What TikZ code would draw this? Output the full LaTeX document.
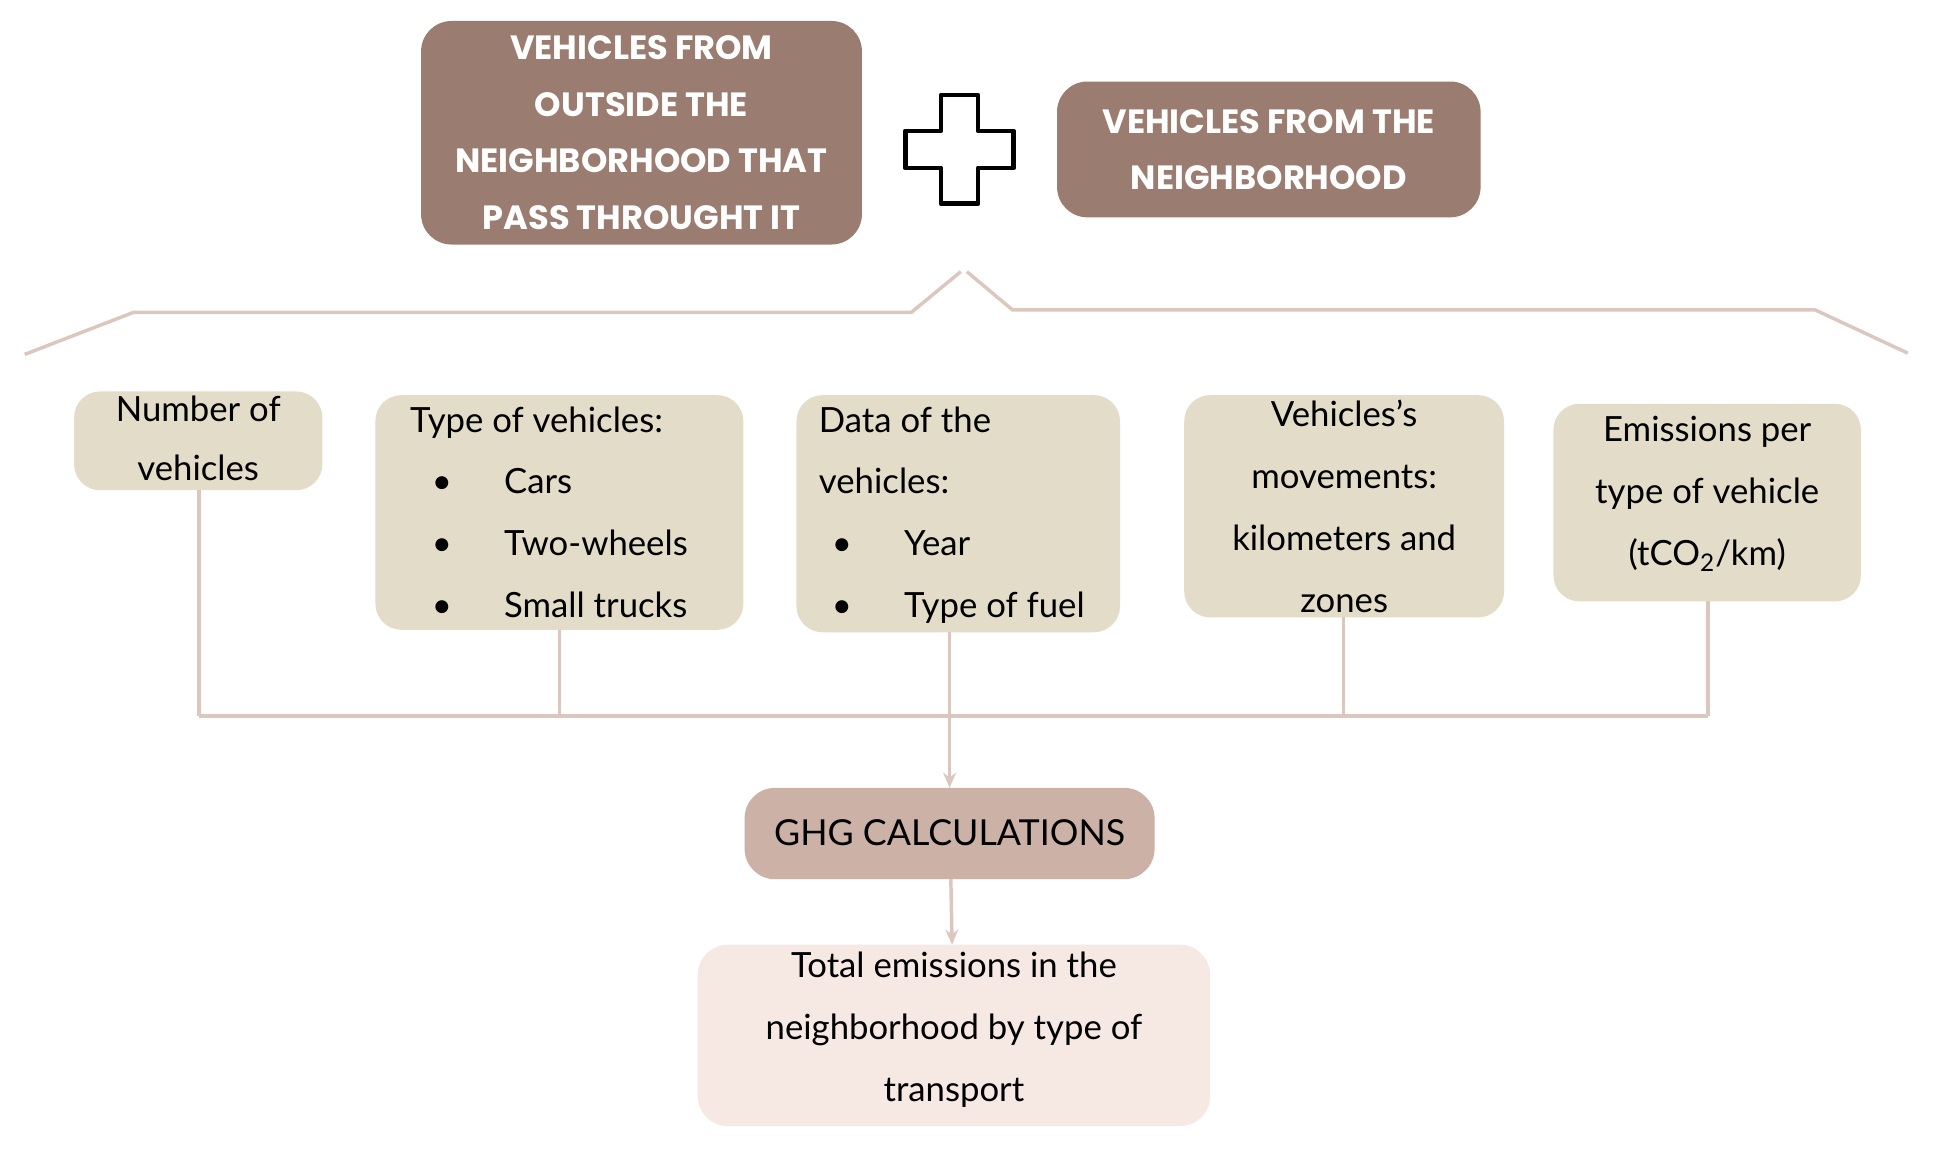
\documentclass[tikz,border=0pt]{standalone}
\usepackage{fontspec}
\setmainfont{Lato}
\newfontfamily\headf{Poppins}
\usetikzlibrary{arrows.meta}
\definecolor{dbrown}{HTML}{9A7D70}
\definecolor{beige}{HTML}{E2DCC8}
\definecolor{ghg}{HTML}{CBB1A6}
\definecolor{pinkbg}{HTML}{F6E8E3}
\definecolor{linec}{HTML}{DCC7BF}
\begin{document}
\begin{tikzpicture}[x=0.02cm,y=-0.02cm,
  dark/.style={fill=dbrown,rounded corners=14pt,text=white,font=\headf\bfseries\fontsize{15.5}{26}\selectfont,align=center,inner sep=0pt},
  bx/.style={fill=beige,rounded corners=12pt,font=\fontsize{16}{27.5}\selectfont,inner sep=0pt},
  ln/.style={draw=linec,line width=1.6pt},
  arr/.style={ln,-{Stealth[length=7pt,width=6pt]}}]
\useasboundingbox (0,0) rectangle (1567,933);
\fill[white] (0,0) rectangle (1567,933);
% top boxes
\path[dark] (341,17) rectangle (698,198);
\node[text=white,font=\headf\bfseries\fontsize{15.5}{26}\selectfont,align=center] (a) at (519.5,107.5) {VEHICLES FROM\\OUTSIDE THE\\NEIGHBORHOOD THAT\\PASS THROUGHT IT};
\path[dark] (856,66) rectangle (1199,176);
\node[text=white,font=\headf\bfseries\fontsize{15.5}{26}\selectfont,align=center] (b) at (1027.5,121) {VEHICLES FROM THE\\NEIGHBORHOOD};
% plus
\draw[line width=2.2pt,line join=round] (762,77) -- (792,77) -- (792,106) -- (821,106) -- (821,136) -- (792,136) -- (792,165) -- (762,165) -- (762,136) -- (733,136) -- (733,106) -- (762,106) -- cycle;
% brace
\draw[ln] (20,287) -- (108,253) -- (738,253) -- (778,220);
\draw[ln] (783,220) -- (820,251) -- (1470,251) -- (1545,286);
% boxes
\path[bx] (60,317) rectangle (261,397);
\node[font=\fontsize{16}{27.5}\selectfont,align=center] (n1) at (160.5,355) {Number of\\vehicles};
\path[bx] (304,320) rectangle (602,510);
\node[font=\fontsize{16}{27.5}\selectfont,align=left,anchor=north west] (n2) at (326,323) {Type of vehicles:\\[1pt]
\hspace*{10pt}\textbullet\hspace{24pt}Cars\\[1pt]
\hspace*{10pt}\textbullet\hspace{24pt}Two-wheels\\[1pt]
\hspace*{10pt}\textbullet\hspace{24pt}Small trucks};
\path[bx] (645,320) rectangle (907,512);
\node[font=\fontsize{16}{27.5}\selectfont,align=left,anchor=north west] (n3) at (657,323) {Data of the\\[1pt]vehicles:\\[1pt]
\hspace*{6pt}\textbullet\hspace{24pt}Year\\[1pt]
\hspace*{6pt}\textbullet\hspace{24pt}Type of fuel};
\path[bx] (959,320) rectangle (1218,500);
\node[font=\fontsize{16}{27.5}\selectfont,align=center] (n4) at (1088.5,410) {Vehicles’s\\[1pt]movements:\\[1pt]kilometers and\\[1pt]zones};
\path[bx] (1258,327) rectangle (1507,487);
\node[font=\fontsize{16}{27.5}\selectfont,align=center] (n5) at (1382.5,400) {Emissions per\\[1pt]type of vehicle\\[1pt](tCO\textsubscript{2}/km)};
% connectors
\coordinate (j1) at (161,580); \coordinate (j2) at (453,580); \coordinate (j3) at (769,580);
\coordinate (j4) at (1088,580); \coordinate (j5) at (1383,580);
\draw[ln] (161,397) -- (j1); \draw[ln] (453,510) -- (j2); \draw[ln] (769,512) -- (j3);
\draw[ln] (1088,500) -- (j4); \draw[ln] (1383,487) -- (j5);
\draw[ln] (j1) -- (j5);
\path[fill=ghg,rounded corners=14pt] (603,638) rectangle (935,712);
\node[font=\fontsize{16.5}{27}\selectfont] (g) at (769,674) {GHG CALCULATIONS};
\draw[arr] (j3) -- (769,638);
\path[fill=pinkbg,rounded corners=14pt] (565,765) rectangle (980,912);
\node[font=\fontsize{16}{27.5}\selectfont,align=center] (t) at (772.5,834) {Total emissions in the\\[1pt]neighborhood by type of\\[1pt]transport};
\draw[arr] (770,712) -- (771,765);
\end{tikzpicture}
\end{document}
